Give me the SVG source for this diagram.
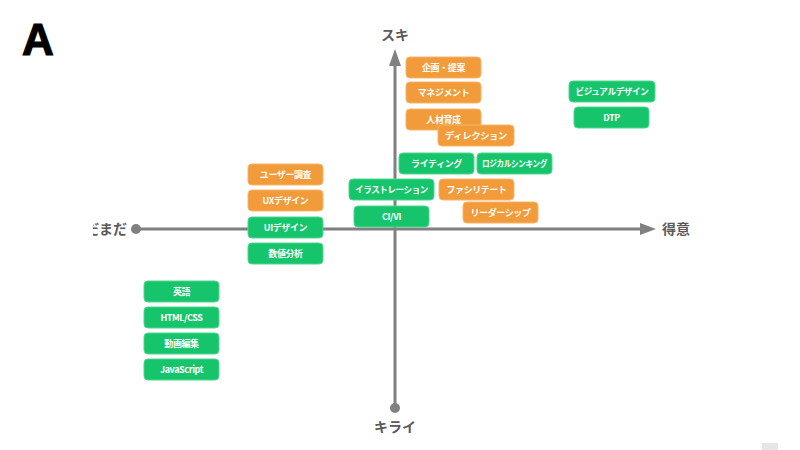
<svg xmlns="http://www.w3.org/2000/svg" width="800" height="450" viewBox="0 0 800 450">
<style>
.o{fill:#F29B3A;stroke:#F6B46A;stroke-width:1}
.g{fill:#16C56B;stroke:#4FD68E;stroke-width:1}
.t{fill:#fff;font-family:"Noto Sans CJK JP","Noto Sans",sans-serif;font-size:9px;font-weight:bold;text-anchor:middle;letter-spacing:-0.4px}
.ax{stroke:#808080;stroke-width:3;fill:none}
.lb{fill:#5a5a5a;font-family:"Noto Sans CJK JP","Noto Sans",sans-serif;font-size:14px;font-weight:bold}
</style>
<defs>
<clipPath id="lc"><rect x="93" y="210" width="60" height="40"/></clipPath>
</defs>
<rect width="800" height="450" fill="#fff"/>
<text x="22" y="55" font-family="Liberation Sans, Arial, sans-serif" font-size="44" font-weight="900" fill="#000" stroke="#000" stroke-width="1.2">A</text>
<g id="axes">
<line class="ax" x1="395" y1="64" x2="395" y2="408"/>
<polygon points="395,49 389,66 401,66" fill="#808080"/>
<circle cx="395" cy="408" r="5" fill="#808080"/>
<line class="ax" x1="136" y1="229" x2="642" y2="229"/>
<polygon points="656,229 640,223 640,235" fill="#808080"/>
<circle cx="136" cy="229" r="5" fill="#808080"/>
<text class="lb" x="395" y="40" text-anchor="middle">スキ</text>
<text class="lb" x="395" y="432" text-anchor="middle">キライ</text>
<text class="lb" x="662" y="234">得意</text>
<text class="lb" x="127" y="234" text-anchor="end" clip-path="url(#lc)">まだまだ</text>
</g>
<g id="n1"><rect class="o" x="406" y="57" width="75" height="21" rx="4"/><text class="t" x="443.5" y="71">企画・提案</text></g>
<g id="n2"><rect class="o" x="406" y="82" width="75" height="21" rx="4"/><text class="t" x="443.5" y="96">マネジメント</text></g>
<g id="n3"><rect class="o" x="406" y="109" width="75" height="21" rx="4"/><text class="t" x="443.5" y="123">人材育成</text></g>
<g id="n4"><rect class="o" x="438" y="125" width="76" height="21" rx="4"/><text class="t" x="476" y="139" textLength="62" lengthAdjust="spacingAndGlyphs">ディレクション</text></g>
<g id="n5"><rect class="g" x="569" y="81" width="86" height="21" rx="4"/><text class="t" x="612" y="95" textLength="73" lengthAdjust="spacingAndGlyphs">ビジュアルデザイン</text></g>
<g id="n6"><rect class="g" x="574" y="107" width="75" height="21" rx="4"/><text class="t" x="611.5" y="121">DTP</text></g>
<g id="n7"><rect class="g" x="399" y="153" width="75" height="21" rx="4"/><text class="t" x="436.5" y="167">ライティング</text></g>
<g id="n8"><rect class="g" x="477" y="153" width="75" height="21" rx="4"/><text class="t" x="514.5" y="167" textLength="65" lengthAdjust="spacingAndGlyphs">ロジカルシンキング</text></g>
<g id="n9"><rect class="g" x="349" y="179" width="85" height="21" rx="4"/><text class="t" x="391.5" y="193" textLength="73" lengthAdjust="spacingAndGlyphs">イラストレーション</text></g>
<g id="n10"><rect class="o" x="439" y="179" width="75" height="21" rx="4"/><text class="t" x="476.5" y="193" textLength="60" lengthAdjust="spacingAndGlyphs">ファシリテート</text></g>
<g id="n11"><rect class="g" x="354" y="206" width="75" height="21" rx="4"/><text class="t" x="391.5" y="220">CI/VI</text></g>
<g id="n12"><rect class="o" x="463" y="202" width="75" height="21" rx="4"/><text class="t" x="500.5" y="216" textLength="60" lengthAdjust="spacingAndGlyphs">リーダーシップ</text></g>
<g id="n13"><rect class="o" x="248" y="164" width="75" height="21" rx="4"/><text class="t" x="285.5" y="178">ユーザー調査</text></g>
<g id="n14"><rect class="o" x="248" y="190" width="75" height="21" rx="4"/><text class="t" x="285.5" y="204">UXデザイン</text></g>
<g id="n15"><rect class="g" x="248" y="217" width="75" height="21" rx="4"/><text class="t" x="285.5" y="231">UIデザイン</text></g>
<g id="n16"><rect class="g" x="248" y="243" width="75" height="21" rx="4"/><text class="t" x="285.5" y="257">数値分析</text></g>
<g id="n17"><rect class="g" x="144" y="281" width="75" height="21" rx="4"/><text class="t" x="181.5" y="295">英語</text></g>
<g id="n18"><rect class="g" x="144" y="307" width="75" height="21" rx="4"/><text class="t" x="181.5" y="321">HTML/CSS</text></g>
<g id="n19"><rect class="g" x="144" y="333" width="75" height="21" rx="4"/><text class="t" x="181.5" y="347">動画編集</text></g>
<g id="n20"><rect class="g" x="144" y="359" width="75" height="21" rx="4"/><text class="t" x="181.5" y="373">JavaScript</text></g>
<rect x="762" y="443" width="16" height="7" fill="#e6e6e6"/>
</svg>
